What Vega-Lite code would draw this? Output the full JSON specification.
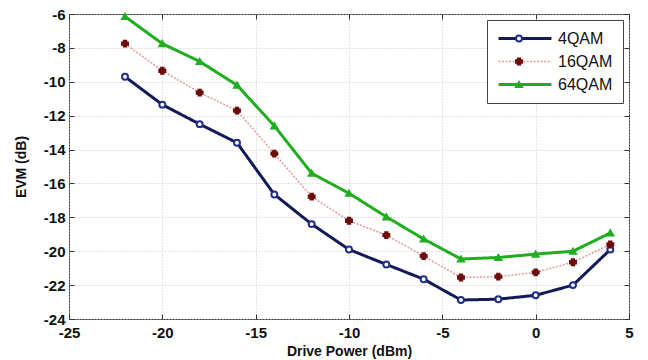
{
  "$schema": "https://vega.github.io/schema/vega-lite/v6.json",
  "width": 560,
  "height": 305,
  "autosize": {"type": "none"},
  "padding": {"left": 69, "top": 14, "right": 19, "bottom": 41},
  "background": "white",
  "config": {
    "view": {"stroke": "#333333", "strokeWidth": 1},
    "font": "Liberation Sans",
    "axis": {
      "domain": false,
      "tickColor": "#333333",
      "tickSize": -5,
      "labelFont": "Liberation Sans",
      "labelFontSize": 15,
      "labelFontWeight": "bold",
      "labelColor": "#111111",
      "labelExpr": "replace(datum.label, '\u2212', '-')",
      "titleFont": "Liberation Sans",
      "titleFontSize": 14,
      "titleFontWeight": "bold",
      "titleColor": "#111111",
      "gridColor": "#c8c8c8",
      "gridDash": [1, 2],
      "gridWidth": 1
    }
  },
  "data": {
    "values": [
      {"power": -22, "evm": -9.7, "series": "4QAM"},
      {"power": -20, "evm": -11.35, "series": "4QAM"},
      {"power": -18, "evm": -12.5, "series": "4QAM"},
      {"power": -16, "evm": -13.6, "series": "4QAM"},
      {"power": -14, "evm": -16.65, "series": "4QAM"},
      {"power": -12, "evm": -18.4, "series": "4QAM"},
      {"power": -10, "evm": -19.9, "series": "4QAM"},
      {"power": -8, "evm": -20.78, "series": "4QAM"},
      {"power": -6, "evm": -21.65, "series": "4QAM"},
      {"power": -4, "evm": -22.88, "series": "4QAM"},
      {"power": -2, "evm": -22.83, "series": "4QAM"},
      {"power": 0, "evm": -22.6, "series": "4QAM"},
      {"power": 2, "evm": -22.0, "series": "4QAM"},
      {"power": 4, "evm": -19.9, "series": "4QAM"},
      {"power": -22, "evm": -7.75, "series": "16QAM"},
      {"power": -20, "evm": -9.35, "series": "16QAM"},
      {"power": -18, "evm": -10.64, "series": "16QAM"},
      {"power": -16, "evm": -11.7, "series": "16QAM"},
      {"power": -14, "evm": -14.24, "series": "16QAM"},
      {"power": -12, "evm": -16.78, "series": "16QAM"},
      {"power": -10, "evm": -18.2, "series": "16QAM"},
      {"power": -8, "evm": -19.05, "series": "16QAM"},
      {"power": -6, "evm": -20.29, "series": "16QAM"},
      {"power": -4, "evm": -21.55, "series": "16QAM"},
      {"power": -2, "evm": -21.5, "series": "16QAM"},
      {"power": 0, "evm": -21.25, "series": "16QAM"},
      {"power": 2, "evm": -20.65, "series": "16QAM"},
      {"power": 4, "evm": -19.6, "series": "16QAM"},
      {"power": -22, "evm": -6.15, "series": "64QAM"},
      {"power": -20, "evm": -7.75, "series": "64QAM"},
      {"power": -18, "evm": -8.8, "series": "64QAM"},
      {"power": -16, "evm": -10.2, "series": "64QAM"},
      {"power": -14, "evm": -12.6, "series": "64QAM"},
      {"power": -12, "evm": -15.4, "series": "64QAM"},
      {"power": -10, "evm": -16.58, "series": "64QAM"},
      {"power": -8, "evm": -17.97, "series": "64QAM"},
      {"power": -6, "evm": -19.28, "series": "64QAM"},
      {"power": -4, "evm": -20.46, "series": "64QAM"},
      {"power": -2, "evm": -20.37, "series": "64QAM"},
      {"power": 0, "evm": -20.17, "series": "64QAM"},
      {"power": 2, "evm": -20.0, "series": "64QAM"},
      {"power": 4, "evm": -18.92, "series": "64QAM"}
    ]
  },
  "layer": [
    {
      "mark": {"type": "line", "strokeJoin": "round"},
      "encoding": {
        "x": {
          "field": "power", "type": "quantitative",
          "scale": {"domain": [-25, 5], "nice": false, "zero": false},
          "axis": {"title": "Drive Power (dBm)", "values": [-25, -20, -15, -10, -5, 0, 5], "grid": true, "labelPadding": 11, "titlePadding": 4, "labelFlush": false}
        },
        "y": {
          "field": "evm", "type": "quantitative",
          "scale": {"domain": [-24, -6], "nice": false, "zero": false},
          "axis": {"title": "EVM (dB)", "values": [-24, -22, -20, -18, -16, -14, -12, -10, -8, -6], "grid": true, "labelPadding": 9, "titlePadding": 15, "labelFlush": false}
        },
        "color": {
          "field": "series", "type": "nominal",
          "scale": {"domain": ["4QAM", "16QAM", "64QAM"], "range": ["#141a58", "#e09a9a", "#1fae1f"]},
          "legend": {
            "title": null, "orient": "top-right", "offset": 6,
            "symbolType": "stroke", "symbolSize": 2800, "clipHeight": 17, "rowPadding": 6,
            "padding": 10, "symbolOffset": 0, "labelOffset": 5,
            "labelFont": "Liberation Sans", "labelFontSize": 16, "labelColor": "#111111",
            "labelExpr": "datum.label + '\u00a0\u00a0\u00a0'",
            "strokeColor": "#444444", "fillColor": "white", "zindex": 1
          }
        },
        "strokeDash": {
          "field": "series", "type": "nominal",
          "scale": {"domain": ["4QAM", "16QAM", "64QAM"], "range": [[1, 0], [2, 1.5], [1, 0]]}
        },
        "strokeWidth": {
          "field": "series", "type": "nominal",
          "scale": {"type": "ordinal", "domain": ["4QAM", "16QAM", "64QAM"], "range": [3, 1.5, 3]}
        }
      }
    },
    {
      "mark": {"type": "point", "size": 35, "strokeWidth": 2, "opacity": 1},
      "encoding": {
        "x": {
          "field": "power", "type": "quantitative",
          "axis": {"orient": "top", "title": null, "labels": false, "grid": false, "values": [-25, -20, -15, -10, -5, 0, 5]}
        },
        "y": {
          "field": "evm", "type": "quantitative",
          "axis": {"orient": "right", "title": null, "labels": false, "grid": false, "values": [-24, -22, -20, -18, -16, -14, -12, -10, -8, -6]}
        },
        "shape": {
          "field": "series", "type": "nominal",
          "scale": {"domain": ["4QAM", "16QAM", "64QAM"], "range": ["circle", "cross", "triangle-up"]},
          "legend": {
            "title": null, "orient": "none", "legendX": 432, "legendY": 6,
            "symbolSize": 35, "symbolStrokeWidth": 2, "clipHeight": 17, "rowPadding": 6,
            "padding": 10, "symbolOffset": 0, "labelOffset": 5,
            "labelFont": "Liberation Sans", "labelFontSize": 16, "labelColor": "transparent",
            "labelExpr": "''",
            "zindex": 2
          }
        },
        "stroke": {
          "field": "series", "type": "nominal",
          "scale": {"domain": ["4QAM", "16QAM", "64QAM"], "range": ["#1f2d8f", "#6e0b0b", "#1fae1f"]}
        },
        "fill": {
          "field": "series", "type": "nominal",
          "scale": {"domain": ["4QAM", "16QAM", "64QAM"], "range": ["#ffffff", "#6e0b0b", "#1fae1f"]}
        }
      }
    }
  ],
  "resolve": {"axis": {"x": "independent", "y": "independent"}}
}
